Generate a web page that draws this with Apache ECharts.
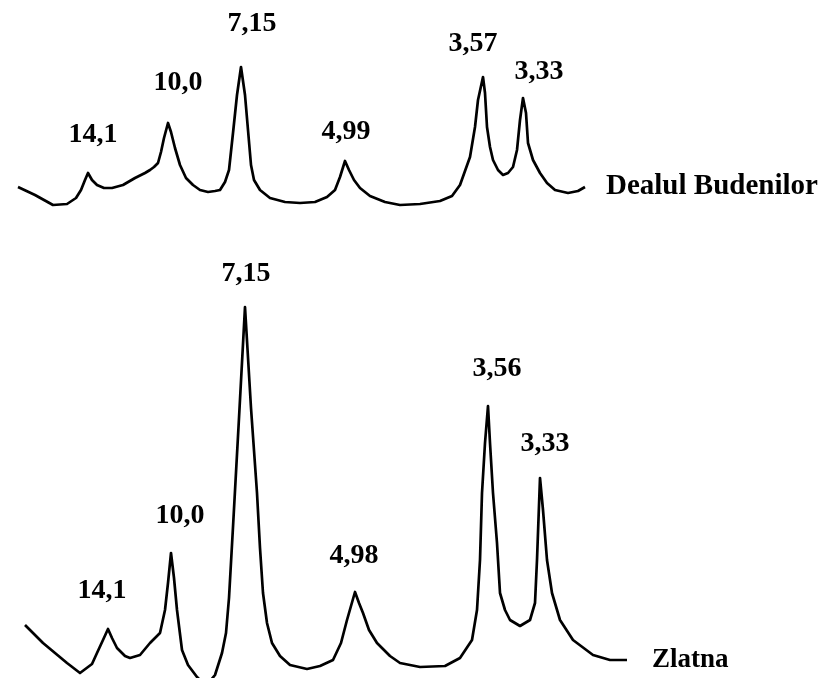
<!DOCTYPE html>
<html>
<head>
<meta charset="utf-8">
<script src="https://cdn.jsdelivr.net/npm/echarts@6/dist/echarts.min.js"></script>
<style>
  html, body { margin: 0; padding: 0; background: #fff; }
  #chart { width: 825px; height: 678px; }
</style>
</head>
<body>
<div id="chart"></div>
<script>
// diffractogram traces, x = position along the scan, y = intensity (arb. units)
var budX = [18, 35, 53, 67, 76, 81, 85, 88, 92, 97, 104, 112, 123, 135, 145, 150, 154, 158, 161, 164, 168, 171, 175, 180, 186, 193, 200, 208, 215, 220, 225, 229, 233, 237, 241, 245, 248, 251, 254, 260, 270, 285, 300, 315, 327, 335, 340, 345, 349, 354, 360, 370, 385, 400, 420, 440, 452, 460, 470, 475, 478, 483, 485, 487, 490, 493, 498, 503, 508, 513, 517, 520, 523, 526, 528, 533, 540, 547, 555, 568, 578, 585];
var budY = [23, 15, 5, 6, 12, 20, 30, 37, 30, 25, 22, 22, 25, 32, 37, 40, 43, 47, 58, 72, 87, 78, 62, 45, 32, 25, 20, 18, 19, 20, 28, 40, 77, 115, 143, 115, 80, 45, 30, 20, 12, 8, 7, 8, 13, 20, 33, 49, 40, 30, 22, 14, 8, 5, 6, 9, 14, 25, 53, 83, 110, 133, 117, 83, 63, 50, 40, 35, 37, 43, 60, 90, 112, 97, 67, 50, 37, 27, 20, 17, 19, 23];

var zlaX = [25, 43, 67, 80, 92, 97, 103, 108, 112, 117, 125, 130, 140, 150, 160, 165, 168, 171, 174, 177, 182, 188, 197, 206, 215, 222, 226, 229, 233, 239, 245, 251, 257, 260, 263, 267, 272, 280, 290, 307, 320, 333, 341, 347, 355, 359, 363, 369, 377, 390, 400, 420, 445, 460, 472, 477, 480, 482, 485, 488, 490, 493, 497, 500, 505, 510, 520, 530, 535, 537, 540, 543, 547, 552, 560, 573, 593, 610, 627];
var zlaY = [53, 35, 15, 5, 14, 25, 38, 49, 40, 30, 22, 20, 23, 35, 45, 68, 95, 125, 100, 68, 28, 13, 1, -8, 3, 25, 45, 80, 151, 260, 371, 270, 185, 130, 85, 55, 35, 22, 13, 9, 12, 18, 35, 58, 86, 75, 65, 48, 35, 22, 15, 11, 12, 20, 38, 68, 118, 185, 235, 272, 235, 185, 135, 85, 68, 58, 52, 58, 75, 118, 200, 168, 118, 85, 58, 38, 23, 18, 18];

// d-spacing labels (Å) at the peaks
var budLabels = ['14,1', '10,0', '7,15', '4,99', '3,57', '3,33'];
var budPeakX = [88, 168, 241, 345, 483, 523];
var budPeakY = [37, 87, 143, 49, 133, 112];
var zlaLabels = ['14,1', '10,0', '7,15', '4,98', '3,56', '3,33'];
var zlaPeakX = [108, 171, 245, 355, 488, 540];
var zlaPeakY = [49, 125, 371, 86, 272, 200];

var sampleNames = ['Dealul Budenilor', 'Zlatna'];

function zip(xs, ys) {
  var out = [];
  for (var i = 0; i < xs.length; i++) out.push([xs[i], ys[i]]);
  return out;
}

// label offsets from the peak tip (px)
var budOffsets = [[5, -38], [10, -40], [11, -43], [1, -29], [-10, -33], [16, -26]];
var zlaOffsets = [[-6, -38], [9, -37], [1, -33], [-1, -36], [9, -37], [5, -34]];

function peakPoints(labels, xs, ys, offs) {
  var out = [];
  for (var i = 0; i < labels.length; i++) {
    out.push({ name: labels[i], value: [xs[i], ys[i]], label: { offset: offs[i] } });
  }
  return out;
}

var font = 'Liberation Serif, Times New Roman, serif';
var lbl = { show: true, position: 'inside', formatter: '{b}', color: '#000', opacity: 1, fontFamily: font, fontSize: 28, fontWeight: 'bold' };

var chart = echarts.init(document.getElementById('chart'));
chart.setOption({
  animation: false,
  backgroundColor: '#fff',
  grid: [
    { left: 0, right: 0, top: 0, height: 210 },
    { left: 0, right: 0, top: 268, height: 410 }
  ],
  xAxis: [
    { type: 'value', gridIndex: 0, min: 0, max: 825, show: false },
    { type: 'value', gridIndex: 1, min: 0, max: 825, show: false }
  ],
  yAxis: [
    { type: 'value', gridIndex: 0, min: 0, max: 210, show: false },
    { type: 'value', gridIndex: 1, min: 0, max: 410, show: false }
  ],
  series: [
    {
      name: sampleNames[0], type: 'line', xAxisIndex: 0, yAxisIndex: 0,
      data: zip(budX, budY), showSymbol: false, smooth: false, clip: false,
      lineStyle: { color: '#000', width: 2.7, join: 'round' },
      endLabel: { show: true, formatter: '{a}', distance: 21, color: '#000', fontFamily: font, fontSize: 29, fontWeight: 'bold' }
    },
    {
      name: sampleNames[1], type: 'line', xAxisIndex: 1, yAxisIndex: 1,
      data: zip(zlaX, zlaY), showSymbol: false, smooth: false, clip: true,
      lineStyle: { color: '#000', width: 2.7, join: 'round' },
      endLabel: { show: true, formatter: '{a}', distance: 25, color: '#000', fontFamily: font, fontSize: 27, fontWeight: 'bold' }
    },
    {
      type: 'scatter', xAxisIndex: 0, yAxisIndex: 0, symbolSize: 0, silent: true,
      itemStyle: { opacity: 1 },
      data: peakPoints(budLabels, budPeakX, budPeakY, budOffsets), label: lbl
    },
    {
      type: 'scatter', xAxisIndex: 1, yAxisIndex: 1, symbolSize: 0, silent: true,
      itemStyle: { opacity: 1 },
      data: peakPoints(zlaLabels, zlaPeakX, zlaPeakY, zlaOffsets), label: lbl
    }
  ]
});
</script>
</body>
</html>
